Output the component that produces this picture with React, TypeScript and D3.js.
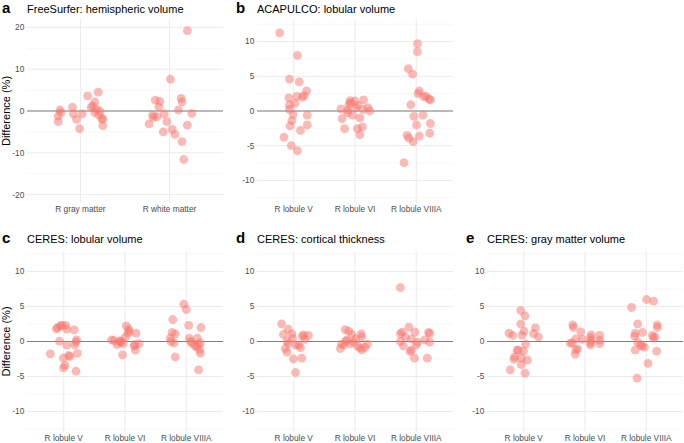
import React from "react";
import * as d3 from "d3";

// ---------- data (jitter offset in category-step units, difference %) ----------
const fsCats = ["R gray matter", "R white matter"];
const lobCats = ["R lobule V", "R lobule VI", "R lobule VIIIA"];

const fsGray: [number, number][] = [
  [-0.23, 0.24], [-0.22, -0.4], [-0.25, -1.2], [-0.25, -2.55], [-0.09, 0.9], [-0.08, -0.7],
  [-0.045, -2.0], [-0.01, -4.2], [0.02, -0.7], [0.08, 3.6], [0.12, 0.9], [0.14, 1.2],
  [0.16, 2.15], [0.18, 0.4], [0.16, -0.4], [0.2, 4.5], [0.22, 0.0], [0.21, -1.0],
  [0.24, -1.75], [0.25, -2.0], [0.25, -3.5],
];
const fsWhite: [number, number][] = [
  [0.2, 19.2], [0.01, 7.6], [-0.16, 2.6], [-0.11, 2.3], [-0.12, 1.0], [-0.19, -1.0],
  [-0.18, -1.5], [-0.14, -1.35], [-0.06, -0.7], [-0.23, -3.1], [-0.03, -2.55], [-0.07, -5.0],
  [0.03, -4.4], [0.06, -5.6], [0.1, 0.24], [0.13, 3.0], [0.14, 2.15], [0.25, -0.55],
  [0.2, -3.4], [0.14, -7.3], [0.16, -11.6],
];

const acV: [number, number][] = [
  [-0.23, 11.25], [0.06, 8.0], [-0.07, 4.6], [0.09, 4.2], [0.21, 2.9], [0.17, 2.2],
  [0.14, 2.0], [0.05, 2.1], [-0.08, 1.9], [0.02, 1.1], [-0.07, 0.87], [-0.07, 0.24],
  [-0.01, -0.5], [0.22, -0.6], [-0.03, -1.4], [0.22, -2.0], [-0.06, -2.15], [0.11, -2.8],
  [-0.16, -3.75], [-0.04, -5.0], [0.06, -5.7],
];
const acVI: [number, number][] = [
  [-0.23, 0.3], [-0.21, -1.1], [-0.17, -2.55], [-0.12, 0.15], [-0.1, 0.9], [-0.08, 1.5],
  [-0.12, -0.24], [-0.04, -0.6], [0.0, 1.45], [0.01, 0.48], [0.05, 0.82], [0.08, -1.0],
  [0.04, -2.55], [0.08, -3.4], [0.12, -2.3], [0.14, 1.6], [0.13, 0.24], [0.21, 0.5],
  [0.24, 0.0], [-0.07, 1.2],
];
const acVIIIA: [number, number][] = [
  [0.02, 9.7], [0.02, 8.55], [-0.13, 6.1], [-0.06, 5.3], [0.05, 2.9], [0.03, 2.5],
  [0.12, 2.07], [0.16, 2.1], [0.21, 1.73], [0.23, 1.6], [-0.09, 0.9], [-0.04, -0.77],
  [0.11, -0.58], [0.005, -2.0], [0.23, -1.8], [-0.15, -3.5], [-0.12, -3.9], [0.05, -3.6],
  [0.22, -3.2], [-0.05, -4.4], [-0.2, -7.45],
];

const lvV: [number, number][] = [
  [-0.22, -1.76], [-0.12, 1.8], [-0.1, 2.0], [-0.05, 2.24], [-0.03, 2.33], [0.03, 2.29],
  [0.05, 1.76], [-0.07, 0.05], [0.05, -0.52], [-0.005, -2.33], [0.08, -2.0], [0.1, -2.14],
  [0.02, -3.4], [-0.005, -3.76], [0.17, 1.67], [0.21, 0.24], [0.2, -0.05], [0.18, -0.48],
  [0.22, -1.71], [0.2, -4.24],
];
const lvVI: [number, number][] = [
  [-0.22, 0.24], [-0.18, 0.14], [-0.13, -0.43], [-0.09, 0.1], [-0.08, -0.14], [-0.06, 0.05],
  [-0.04, -1.9], [-0.03, -0.29], [0.005, 0.62], [0.02, 2.24], [0.06, 1.76], [0.05, 1.19],
  [0.07, 1.43], [0.15, -0.62], [0.16, -0.43], [0.17, -1.24], [0.18, 1.19], [0.23, -0.29],
];
const lvVIIIA: [number, number][] = [
  [-0.22, 3.14], [-0.23, 1.29], [-0.18, 1.1], [-0.26, 0.48], [-0.25, 0.0], [-0.2, -0.19],
  [-0.18, -2.19], [-0.04, 5.33], [0.0, 4.57], [0.04, 2.29], [0.05, 0.48], [0.07, 0.0],
  [0.09, -0.19], [0.14, -0.62], [0.17, -0.76], [0.18, 0.48], [0.2, -0.43], [0.22, -1.19],
  [0.23, -1.67], [0.24, 2.0], [0.2, -4.05], [0.23, -0.19],
];

const ctV: [number, number][] = [
  [-0.2, 2.52], [-0.17, 1.0], [-0.09, 1.76], [-0.03, 1.1], [-0.02, 0.48], [-0.11, 0.1],
  [-0.09, -0.29], [-0.14, -1.0], [-0.11, -1.52], [0.03, -0.48], [0.08, -0.52], [0.11, -0.86],
  [-0.005, -2.48], [0.13, -2.38], [0.03, -4.43], [0.14, 0.76], [0.16, 0.95], [0.18, 0.29],
  [0.24, 0.86],
];
const ctVI: [number, number][] = [
  [-0.24, -1.0], [-0.22, -0.38], [-0.16, 1.71], [-0.15, 0.1], [-0.13, 0.19], [-0.1, 1.48],
  [-0.08, -0.33], [-0.05, 1.0], [-0.02, -0.1], [0.01, 0.38], [0.04, -0.62], [0.08, -0.9],
  [0.1, 1.1], [0.11, 0.67], [0.11, -1.19], [0.16, -0.86], [0.2, -0.38], [-0.18, -0.48],
];
const ctVIIIA: [number, number][] = [
  [-0.26, 7.7], [-0.26, 1.1], [-0.23, 1.33], [-0.26, 0.0], [-0.21, -0.62], [-0.18, 0.67],
  [-0.12, 2.05], [-0.08, -1.24], [-0.08, 0.38], [-0.03, -2.38], [-0.02, 1.33], [0.02, -0.1],
  [0.0, -0.48], [0.14, 0.24], [0.2, 1.29], [0.22, 1.14], [0.22, -0.1], [0.18, -2.38],
  [-0.1, -1.43],
];

const gmV: [number, number][] = [
  [-0.24, 1.19], [-0.18, 0.86], [-0.05, 4.43], [0.02, 3.67], [-0.05, 2.52], [0.005, 1.48],
  [-0.03, 0.9], [0.19, 1.95], [0.16, 1.14], [0.24, 0.67], [0.03, -0.38], [-0.11, -1.24],
  [-0.09, -1.24], [-0.005, -1.38], [-0.15, -2.19], [-0.16, -2.52], [-0.04, -2.38], [0.06, -2.67],
  [-0.04, -3.29], [-0.22, -4.05], [0.02, -4.52],
];
const gmVI: [number, number][] = [
  [-0.2, 2.38], [-0.19, 2.0], [-0.07, 1.38], [-0.24, -0.24], [-0.21, -0.19], [-0.15, 0.38],
  [-0.04, 0.29], [-0.12, -1.05], [-0.15, -1.19], [-0.16, -1.81], [0.1, 0.95], [0.09, 0.57],
  [0.1, 0.19], [0.09, -0.19], [0.09, -0.48], [0.24, 0.86], [0.24, 0.19], [0.24, -0.29],
];
const gmVIIIA: [number, number][] = [
  [-0.24, 4.86], [0.005, 6.0], [0.12, 5.76], [-0.14, 2.52], [-0.18, 1.19], [-0.19, 0.76],
  [-0.06, 1.29], [-0.18, -1.24], [-0.14, -0.14], [-0.09, -0.48], [-0.07, -0.67], [-0.03, -0.81],
  [0.03, -3.14], [-0.15, -5.24], [0.1, 0.86], [0.14, 0.67], [0.12, 0.48], [0.18, 2.38],
  [0.18, 2.0], [0.17, -1.38],
];

const titles = [
  "FreeSurfer: hemispheric volume",
  "ACAPULCO: lobular volume",
  "CERES: lobular volume",
  "CERES: cortical thickness",
  "CERES: gray matter volume",
];
const letters = ["a", "b", "c", "d", "e"];
const wideTicks = [-20, -10, 0, 10, 20];
const wideMinor = [-15, -5, 5, 15];
const narrowTicks = [-10, -5, 0, 5, 10];
const narrowMinor = [-12.5, -7.5, -2.5, 2.5, 7.5, 12.5];
const yTitle = "Difference (%)";

// ---------- layout ----------
const W = 684;
const H = 443;
const FONT = "'Liberation Sans', Arial, Helvetica, sans-serif";
const PT = "#F8766D";
const colLeft = [27, 257, 487];
const colWidth = 196;
const letterX = [2, 236, 466];
const rows = [
  { top: 19, bottom: 203, titleY: 12.5 },
  { top: 251, bottom: 432, titleY: 243 },
];

type PanelSpec = {
  idx: number;
  col: number;
  row: number;
  cats: string[];
  series: [number, number][][];
  domain: [number, number];
  ticks: number[];
  minor: number[];
  yTitle: boolean;
};

const panels: PanelSpec[] = [
  { idx: 0, col: 0, row: 0, cats: fsCats, series: [fsGray, fsWhite], domain: [-22, 22], ticks: wideTicks, minor: wideMinor, yTitle: true },
  { idx: 1, col: 1, row: 0, cats: lobCats, series: [acV, acVI, acVIIIA], domain: [-13.25, 13.25], ticks: narrowTicks, minor: narrowMinor, yTitle: false },
  { idx: 2, col: 0, row: 1, cats: lobCats, series: [lvV, lvVI, lvVIIIA], domain: [-12.93, 12.93], ticks: narrowTicks, minor: narrowMinor, yTitle: true },
  { idx: 3, col: 1, row: 1, cats: lobCats, series: [ctV, ctVI, ctVIIIA], domain: [-12.93, 12.93], ticks: narrowTicks, minor: narrowMinor, yTitle: false },
  { idx: 4, col: 2, row: 1, cats: lobCats, series: [gmV, gmVI, gmVIIIA], domain: [-12.93, 12.93], ticks: narrowTicks, minor: narrowMinor, yTitle: false },
];

function Panel({ p }: { p: PanelSpec }) {
  const left = colLeft[p.col];
  const right = left + colWidth;
  const { top, bottom, titleY } = rows[p.row];
  const x = d3.scalePoint<string>().domain(p.cats).range([left, right]).padding(0.6);
  const y = d3.scaleLinear().domain(p.domain).range([bottom, top]);
  const step = x.step();
  return (
    <g>
      {/* minor grid */}
      {p.minor.map((t) => (
        <line key={"mn" + t} x1={left} x2={right} y1={y(t)} y2={y(t)} stroke="#F2F2F2" strokeWidth={0.6} />
      ))}
      {/* major grid */}
      {p.ticks.map((t) => (
        <line key={"mj" + t} x1={left} x2={right} y1={y(t)} y2={y(t)} stroke="#EBEBEB" strokeWidth={1} />
      ))}
      {p.cats.map((c) => (
        <line key={"vg" + c} x1={x(c)} x2={x(c)} y1={top} y2={bottom} stroke="#EBEBEB" strokeWidth={1} />
      ))}
      {/* zero line */}
      <line x1={left} x2={right} y1={y(0)} y2={y(0)} stroke="#7F7F7F" strokeWidth={1} />
      {/* points */}
      {p.series.map((pts, ci) =>
        pts.map((d, i) => (
          <circle
            key={ci + "-" + i}
            cx={(x(p.cats[ci]) as number) + d[0] * step}
            cy={y(d[1])}
            r={4.4}
            fill={PT}
            fillOpacity={0.5}
          />
        ))
      )}
      {/* y tick labels */}
      {p.ticks.map((t) => (
        <text key={"yt" + t} x={left - 2.7} y={y(t)} dy="0.35em" textAnchor="end" fontSize={8.3} fill="#4D4D4D" fontFamily={FONT}>
          {t}
        </text>
      ))}
      {/* x tick labels */}
      {p.cats.map((c) => (
        <text key={"xt" + c} x={x(c)} y={bottom + 9.3} textAnchor="middle" fontSize={8.3} fill="#4D4D4D" fontFamily={FONT}>
          {c}
        </text>
      ))}
      {/* title */}
      <text x={letterX[p.col]} y={titleY} fontSize={15} fontWeight="bold" fill="#000" fontFamily={FONT}>
        {letters[p.idx]}
      </text>
      <text x={left} y={titleY} fontSize={11} fill="#000" fontFamily={FONT}>
        {titles[p.idx]}
      </text>
      {p.yTitle && (
        <text
          transform={`translate(9.5, ${(top + bottom) / 2}) rotate(-90)`}
          textAnchor="middle"
          fontSize={11}
          fill="#000"
          fontFamily={FONT}
        >
          {yTitle}
        </text>
      )}
    </g>
  );
}

export default function App() {
  return (
    <svg
      width={W}
      height={H}
      viewBox={`0 0 ${W} ${H}`}
      style={{ position: "absolute", left: 0, top: 0, background: "#fff" }}
    >
      <rect x={0} y={0} width={W} height={H} fill="#fff" />
      {panels.map((p) => (
        <Panel key={p.idx} p={p} />
      ))}
    </svg>
  );
}
